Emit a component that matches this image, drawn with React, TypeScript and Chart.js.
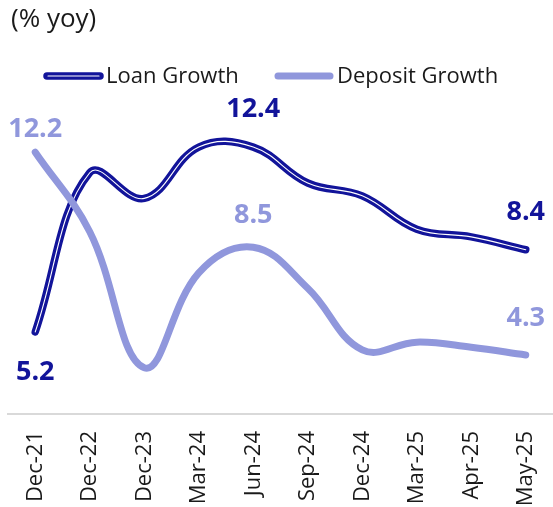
import React, { useEffect, useRef } from "react";
import { Chart, registerables } from "chart.js";

Chart.register(...registerables);

const categories = ["Dec-21", "Dec-22", "Dec-23", "Mar-24", "Jun-24", "Sep-24", "Dec-24", "Mar-25", "Apr-25", "May-25"];
const loanGrowth = [5.2, 11.4, 10.4, 12.4, 12.4, 11.0, 10.5, 9.2, 8.9, 8.4];
const depositGrowth = [12.2, 9.1, 3.8, 7.5, 8.5, 6.9, 4.5, 4.8, 4.6, 4.3];
const loanLabelIdx = [0, 4, 9];
const depositLabelIdx = [0, 4, 9];
const loanLabelDy = [40, -38, -37];
const depositLabelDy = [-23, -32, -37];

const NAVY = "#12149a";
const LIGHT = "#9097dc";
const FONT = "'Open Sans', sans-serif";

const overlayPlugin = {
  id: "overlay",
  afterDraw(chart: any) {
    const ctx = chart.ctx;
    const x = chart.scales.x;
    const y = chart.scales.y;
    ctx.save();
    // title
    ctx.fillStyle = "#1a1a1a";
    ctx.font = `26px ${FONT}`;
    ctx.textAlign = "left";
    ctx.textBaseline = "middle";
    ctx.fillText("(% yoy)", 11, 20);
    // legend
    ctx.lineCap = "round";
    ctx.strokeStyle = NAVY;
    ctx.lineWidth = 7.5;
    ctx.beginPath();
    ctx.moveTo(47, 76);
    ctx.lineTo(100, 76);
    ctx.stroke();
    ctx.strokeStyle = "#ffffff";
    ctx.lineWidth = 1.1;
    ctx.beginPath();
    ctx.moveTo(48, 76);
    ctx.lineTo(99, 76);
    ctx.stroke();
    ctx.strokeStyle = LIGHT;
    ctx.lineWidth = 7;
    ctx.beginPath();
    ctx.moveTo(278, 76);
    ctx.lineTo(330, 76);
    ctx.stroke();
    ctx.fillStyle = "#1a1a1a";
    ctx.font = `22px ${FONT}`;
    ctx.textBaseline = "alphabetic";
    ctx.fillText("Loan Growth", 106, 83);
    ctx.fillText("Deposit Growth", 337, 83);
    // data labels
    ctx.font = `bold 27px ${FONT}`;
    ctx.textAlign = "center";
    ctx.textBaseline = "middle";
    ctx.fillStyle = NAVY;
    loanLabelIdx.forEach((i, k) => {
      ctx.fillText(loanGrowth[i].toFixed(1), x.getPixelForValue(i), y.getPixelForValue(loanGrowth[i]) + loanLabelDy[k]);
    });
    ctx.fillStyle = LIGHT;
    depositLabelIdx.forEach((i, k) => {
      ctx.fillText(depositGrowth[i].toFixed(1), x.getPixelForValue(i), y.getPixelForValue(depositGrowth[i]) + depositLabelDy[k]);
    });
    ctx.restore();
  },
};

export default function App() {
  const ref = useRef<HTMLCanvasElement>(null);
  useEffect(() => {
    if (!ref.current) return;
    const chart = new Chart(ref.current, {
      type: "line",
      data: {
        labels: categories,
        datasets: [
          {
            label: "Deposit Growth",
            data: depositGrowth,
            borderColor: LIGHT,
            borderWidth: 7,
            borderCapStyle: "round",
            borderJoinStyle: "round",
            pointRadius: 0,
            tension: 0.4,
            order: 0,
          },
          {
            label: "Loan core",
            data: loanGrowth,
            borderColor: "#ffffff",
            borderWidth: 1.1,
            borderCapStyle: "round",
            pointRadius: 0,
            tension: 0.4,
            order: 1,
          },
          {
            label: "Loan Growth",
            data: loanGrowth,
            borderColor: NAVY,
            borderWidth: 7.5,
            borderCapStyle: "round",
            borderJoinStyle: "round",
            pointRadius: 0,
            tension: 0.4,
            order: 2,
          },
        ],
      },
      options: {
        responsive: false,
        animation: false,
        layout: { padding: { top: 106, left: 8, right: 0, bottom: 0 } },
        plugins: { legend: { display: false }, tooltip: { enabled: false }, title: { display: false } },
        scales: {
          x: {
            offset: true,
            grid: { display: false, drawTicks: false },
            border: { display: true, color: "#d9d9d9", width: 2 },
            ticks: {
              autoSkip: false,
              maxRotation: 90,
              minRotation: 90,
              padding: 17,
              color: "#1a1a1a",
              font: { family: FONT, size: 22 },
            },
            afterFit(scale: any) {
              scale.height = 93;
              scale.paddingLeft = 0;
              scale.paddingRight = 0;
            },
          },
          y: {
            display: false,
            min: 2,
            max: 14,
          },
        },
      },
      plugins: [overlayPlugin],
    });
    return () => chart.destroy();
  }, []);
  return (
    <canvas
      ref={ref}
      width={553}
      height={507}
      style={{ position: "absolute", left: 0, top: 0, display: "block" }}
    />
  );
}
